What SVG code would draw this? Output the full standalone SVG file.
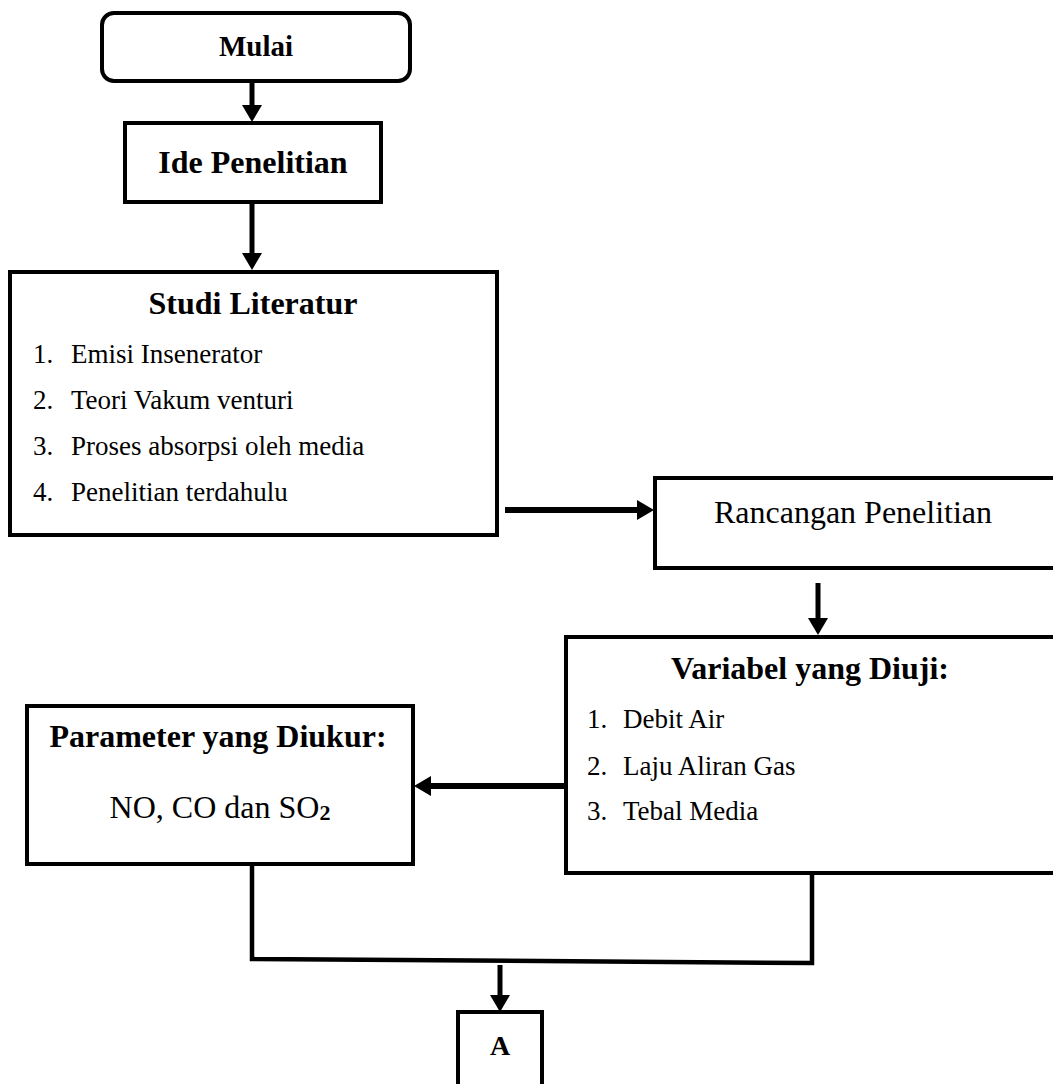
<svg xmlns="http://www.w3.org/2000/svg" width="1053" height="1084" viewBox="0 0 1053 1084">
<defs>
<style>
.box{fill:#fff;stroke:#000;stroke-width:4}
.ln{fill:none;stroke:#000;stroke-width:4.5}
.arr{fill:none;stroke:#000;stroke-width:5;marker-end:url(#ah)}
.arrw{fill:none;stroke:#000;stroke-width:6;marker-end:url(#ah)}
text{font-family:"Liberation Serif","Times New Roman",serif;fill:#000}
.h{font-weight:bold;font-size:32px;text-anchor:middle}
.t{font-size:32px;text-anchor:middle}
.li{font-size:27px}
</style>
<marker id="ah" viewBox="0 0 17 20" refX="0" refY="10" markerWidth="17" markerHeight="20" markerUnits="userSpaceOnUse" orient="auto">
<path d="M0,0 L17,10 L0,20 z" fill="#000"/>
</marker>
</defs>
<rect width="1053" height="1084" fill="#fff"/>
<g id="connectors">
<line class="arr" x1="252" y1="81" x2="252" y2="105"/>
<line class="arr" x1="252" y1="202" x2="252" y2="253"/>
<line class="arrw" x1="505" y1="510" x2="637" y2="510"/>
<line class="arr" x1="818" y1="583" x2="818" y2="618"/>
<line class="arrw" x1="566" y1="786" x2="431" y2="786"/>
<polyline class="ln" points="252,864 252,959 812,963 812,873"/>
<line class="arr" x1="500" y1="965" x2="500" y2="995"/>
</g>
<g id="mulai">
<rect class="box" x="102" y="13" width="308" height="68" rx="12"/>
<text class="h" x="256" y="56" style="font-size:29px">Mulai</text>
</g>
<g id="ide">
<rect class="box" x="125" y="123" width="256" height="79"/>
<text class="h" x="253" y="173">Ide Penelitian</text>
</g>
<g id="studi">
<rect class="box" x="10" y="272" width="487" height="263"/>
<text class="h" x="253" y="314">Studi Literatur</text>
<text class="li" x="33" y="363">1.</text><text class="li" x="71" y="363">Emisi Insenerator</text>
<text class="li" x="33" y="409">2.</text><text class="li" x="71" y="409">Teori Vakum venturi</text>
<text class="li" x="33" y="455">3.</text><text class="li" x="71" y="455">Proses absorpsi oleh media</text>
<text class="li" x="33" y="501">4.</text><text class="li" x="71" y="501">Penelitian terdahulu</text>
</g>
<g id="rancangan">
<rect class="box" x="655" y="478" width="420" height="90"/>
<text class="t" x="853" y="523">Rancangan Penelitian</text>
</g>
<g id="variabel">
<rect class="box" x="566" y="637" width="500" height="236"/>
<text class="h" x="810" y="679">Variabel yang Diuji:</text>
<text class="li" x="587" y="728">1.</text><text class="li" x="623" y="728">Debit Air</text>
<text class="li" x="587" y="775">2.</text><text class="li" x="623" y="775">Laju Aliran Gas</text>
<text class="li" x="587" y="820">3.</text><text class="li" x="623" y="820">Tebal Media</text>
</g>
<g id="parameter">
<rect class="box" x="27" y="706" width="386" height="158"/>
<text class="h" x="218" y="747">Parameter yang Diukur:</text>
<text class="t" x="220" y="818">NO, CO dan SO<tspan style="font-size:22px;font-weight:bold" dy="2">2</tspan></text>
</g>
<g id="a">
<rect class="box" x="458" y="1012" width="84" height="90"/>
<text class="h" x="500" y="1055" style="font-size:28px">A</text>
</g>
</svg>
